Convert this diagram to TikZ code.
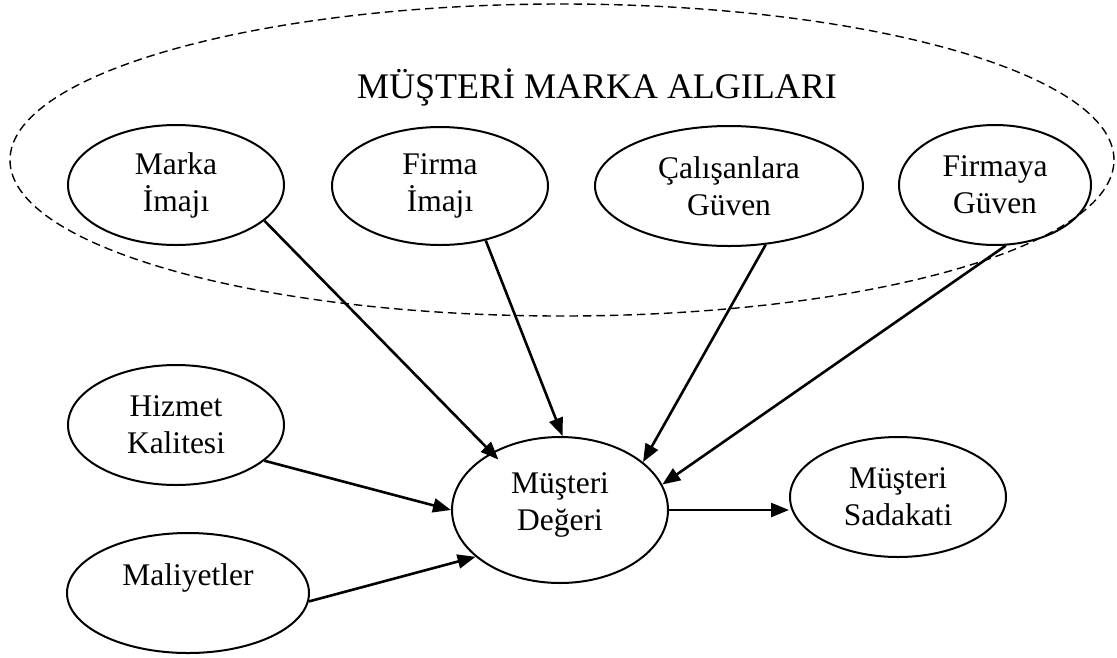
\documentclass[tikz,border=0pt]{standalone}
\usepackage{fontspec}
\setmainfont{Liberation Serif}
\usetikzlibrary{shapes.geometric,arrows.meta}
\begin{document}
\begin{tikzpicture}[x=1pt,y=-1pt,
  oval/.style={draw, ellipse, line width=2pt, inner sep=0pt, align=center,
    font=\fontsize{31.5}{37}\selectfont},
  group/.style={draw, ellipse, dash pattern=on 8.5pt off 5pt, line width=1.4pt, inner sep=0pt},
  link/.style={line width=2.6pt, -{Triangle[length=18pt,width=14pt]}},
]
\useasboundingbox (0,0) rectangle (1117,657);

% grouping ellipse for the brand perceptions
\node[group, minimum width=1104pt, minimum height=312pt] (percep) at (562,160) {};
\node[anchor=base, font=\fontsize{36}{43}\selectfont] (title) at (597,98) {MÜŞTERİ MARKA ALGILARI};

% perception factors
\node[oval, minimum width=216pt, minimum height=120pt] (marka) at (176,185) {Marka\\İmajı};
\node[oval, minimum width=216pt, minimum height=118pt] (firma) at (440,186) {Firma\\İmajı};
\node[oval, minimum width=268pt, minimum height=120pt] (calis) at (729,186) {Çalışanlara\\Güven};
\node[oval, minimum width=192pt, minimum height=120pt] (firmaya) at (995,185) {Firmaya\\Güven};

% other factors
\node[oval, minimum width=216pt, minimum height=120pt] (hizmet) at (176,425) {Hizmet\\Kalitesi};
\node[oval, minimum width=242pt, minimum height=120pt] (maliyet) at (188,593) {Maliyetler\\\mbox{}};

% outcome
\node[oval, minimum width=216pt, minimum height=146pt] (deger) at (560,510) {};
\node[align=center, font=\fontsize{31.5}{37}\selectfont] (degertext) at (560,505) {Müşteri\\Değeri};
\node[oval, minimum width=216pt, minimum height=120pt] (sadakat) at (898,497) {Müşteri\\Sadakati};

% relations
\draw[link, shorten >=-10pt] (marka.-22.7) -- (deger.140);
\draw[link] (firma.-50) -- (deger.88);
\draw[link] (calis.-58.6) -- (deger.30.5);
\draw[link] (firmaya.-80.5) -- (deger.14);
\draw[link] (hizmet.-22.7) -- (deger.180);
\draw[link] (maliyet.-4.8) -- (deger.209);
\draw[link] (deger.east) -- (deger.east -| sadakat.west);
\end{tikzpicture}
\end{document}
